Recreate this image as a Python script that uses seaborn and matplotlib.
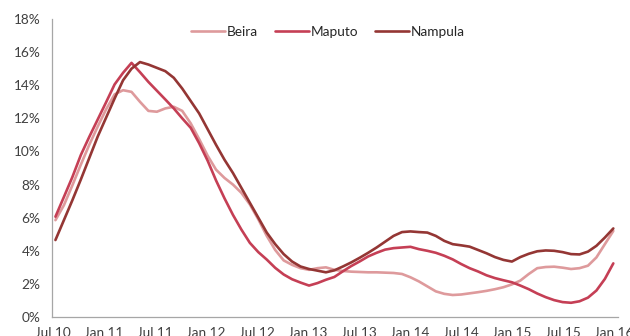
import numpy as np
import pandas as pd
import matplotlib
matplotlib.use("Agg")
import matplotlib.pyplot as plt
import seaborn as sns
from matplotlib.ticker import FuncFormatter, FixedLocator

# Monthly inflation rate (%), Jul 2010 - Jan 2016
tick_labels = ["Jul 10", "Jan 11", "Jul 11", "Jan 12", "Jul 12", "Jan 13",
               "Jul 13", "Jan 14", "Jul 14", "Jan 15", "Jul 15", "Jan 16"]

beira = [5.85, 6.75, 7.95, 9.2, 10.4, 11.5, 12.55, 13.45, 13.7, 13.6,
         13.0, 12.45, 12.4, 12.6, 12.7, 12.45, 11.7, 10.75, 9.75, 8.9,
         8.4, 8.0, 7.5, 6.8, 5.9, 4.9, 4.05, 3.42, 3.15, 2.95,
         2.85, 2.95, 3.0, 2.85, 2.78, 2.74, 2.72, 2.7, 2.7, 2.68,
         2.66, 2.6, 2.4, 2.15, 1.85, 1.55, 1.4, 1.33, 1.36, 1.43,
         1.5, 1.58, 1.68, 1.8, 1.97, 2.2, 2.6, 2.95, 3.02, 3.04,
         2.98, 2.9, 2.95, 3.1, 3.6, 4.4, 5.2]

maputo = [6.06, 7.25, 8.45, 9.78, 10.88, 11.93, 12.98, 14.05, 14.75, 15.35,
          14.79, 14.2, 13.67, 13.14, 12.6, 12.0, 11.43, 10.5, 9.45, 8.25,
          7.17, 6.17, 5.28, 4.48, 3.92, 3.47, 2.97, 2.57, 2.28, 2.08,
          1.9, 2.05, 2.25, 2.42, 2.76, 3.08, 3.36, 3.66, 3.88, 4.07,
          4.16, 4.2, 4.24, 4.1, 4.0, 3.88, 3.7, 3.48, 3.2, 2.95,
          2.75, 2.52, 2.35, 2.22, 2.1, 1.9, 1.68, 1.42, 1.2, 1.02,
          0.9, 0.86, 0.95, 1.17, 1.6, 2.3, 3.24]

nampula = [4.65, 5.85, 7.05, 8.3, 9.6, 10.9, 12.05, 13.2, 14.3, 15.0,
           15.4, 15.25, 15.05, 14.85, 14.45, 13.8, 13.05, 12.3, 11.35, 10.4,
           9.5, 8.7, 7.8, 6.9, 6.0, 5.1, 4.4, 3.8, 3.35, 3.05,
           2.9, 2.8, 2.7, 2.82, 3.05, 3.3, 3.58, 3.88, 4.2, 4.55,
           4.9, 5.13, 5.17, 5.13, 5.1, 4.9, 4.6, 4.4, 4.33, 4.25,
           4.05, 3.85, 3.62, 3.45, 3.35, 3.62, 3.82, 3.97, 4.02, 4.0,
           3.92, 3.8, 3.78, 3.95, 4.3, 4.8, 5.35]

series = {"Beira": beira, "Maputo": maputo, "Nampula": nampula}
colors = {"Beira": "#DE9A9C", "Maputo": "#C53F55", "Nampula": "#943634"}

frames = []
for name, vals in series.items():
    frames.append(pd.DataFrame({"month": np.arange(len(vals)),
                                "rate": vals, "city": name}))
df = pd.concat(frames, ignore_index=True)

sns.set_theme(style="white")
plt.rcParams["font.family"] = ["Lato", "DejaVu Sans"]

fig = plt.figure(figsize=(6.3, 3.36), dpi=100)
ax = fig.add_axes([0.0833, 0.0565, 0.8976, 0.8869])

sns.lineplot(data=df, x="month", y="rate", hue="city", palette=colors,
             linewidth=1.9, ax=ax, legend=False)
for ln in ax.lines:
    ln.set_solid_joinstyle("round")
    ln.set_solid_capstyle("round")

ax.set_xlim(-0.35, 66.55)
ax.set_ylim(0, 18)
xt = np.linspace(-0.35, 66.05, len(tick_labels))
ax.xaxis.set_major_locator(FixedLocator(xt))
ax.set_xticklabels(tick_labels)
ax.set_yticks(np.arange(0, 19, 2))
ax.yaxis.set_major_formatter(FuncFormatter(lambda v, p: f"{v:.0f}%"))
ax.set_xlabel("")
ax.set_ylabel("")

for s in ["top", "right"]:
    ax.spines[s].set_visible(False)
for s in ["left", "bottom"]:
    ax.spines[s].set_color("#A6A6A6")
    ax.spines[s].set_linewidth(0.9)

ax.tick_params(axis="both", which="major", direction="out", length=3.5,
               width=0.9, color="#A6A6A6", labelsize=9.8, labelcolor="#404040")
ax.tick_params(axis="y", pad=5)
ax.tick_params(axis="x", pad=3.5)

handles = [plt.Line2D([], [], color=colors[n], lw=1.9) for n in series]
ax.legend(handles, list(series), loc="center", bbox_to_anchor=(0.487, 0.956),
          ncol=3, frameon=False, fontsize=9.8, handlelength=2.5,
          handletextpad=0.15, columnspacing=1.2, labelcolor="#262626")

fig.savefig("out.png", dpi=100)
